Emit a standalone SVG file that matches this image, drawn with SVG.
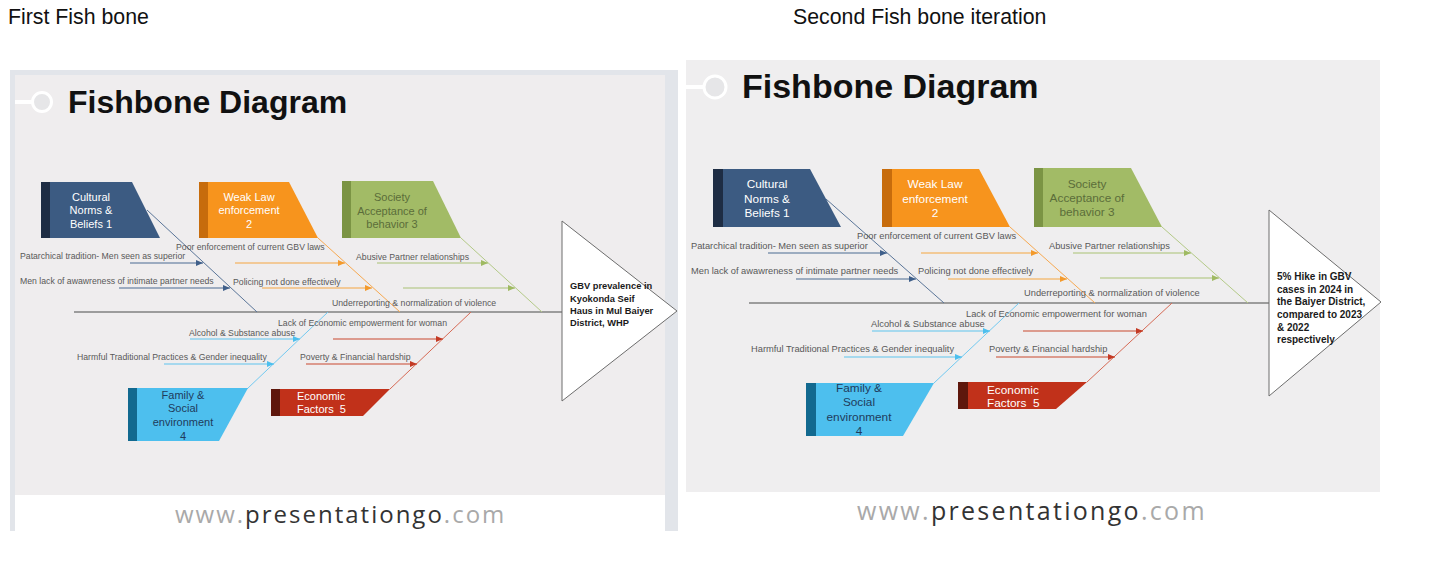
<svg xmlns="http://www.w3.org/2000/svg" width="1440" height="570" viewBox="0 0 1440 570">
<defs>
<style>
.cap{font-family:"Liberation Sans",Arial,sans-serif;font-size:21.3px;fill:#111}
.title{font-family:"Liberation Sans",Arial,sans-serif;font-weight:bold;fill:#111}
.lbl{font-family:"Liberation Sans",Arial,sans-serif;fill:#595959}
.l1{font-size:8.7px}
.l2{font-size:9.3px}
.bx{font-family:"Liberation Sans",Arial,sans-serif;text-anchor:middle}
.b1{font-size:11px}
.b2{font-size:11.8px}
.head{font-family:"Liberation Sans",Arial,sans-serif;font-weight:bold;fill:#1a1a1a}
.foot{font-family:"Open Sans","Liberation Sans",sans-serif;letter-spacing:2px}
.g{fill:#a9a9a9}.d{fill:#333}
.spine{stroke:#808080;stroke-width:1.3;fill:none}
.bone{stroke-width:1;fill:none}
.arr{stroke-width:1.1;fill:none}
.tri{fill:#fff;stroke:#6d6d6d;stroke-width:1}
.pin{fill:#e6e6e8;stroke:#fff;stroke-width:3}
</style>
<marker id="mBlue" viewBox="0 0 7 6" markerWidth="7" markerHeight="6" refX="7" refY="3" orient="auto" markerUnits="userSpaceOnUse"><path d="M0,0L7,3L0,6z" fill="#3f5f8a"/></marker>
<marker id="mOrange" viewBox="0 0 7 6" markerWidth="7" markerHeight="6" refX="7" refY="3" orient="auto" markerUnits="userSpaceOnUse"><path d="M0,0L7,3L0,6z" fill="#f39a2c"/></marker>
<marker id="mGreen" viewBox="0 0 7 6" markerWidth="7" markerHeight="6" refX="7" refY="3" orient="auto" markerUnits="userSpaceOnUse"><path d="M0,0L7,3L0,6z" fill="#9fba62"/></marker>
<marker id="mLblue" viewBox="0 0 7 6" markerWidth="7" markerHeight="6" refX="7" refY="3" orient="auto" markerUnits="userSpaceOnUse"><path d="M0,0L7,3L0,6z" fill="#4cbfee"/></marker>
<marker id="mRed" viewBox="0 0 7 6" markerWidth="7" markerHeight="6" refX="7" refY="3" orient="auto" markerUnits="userSpaceOnUse"><path d="M0,0L7,3L0,6z" fill="#c43a24"/></marker>
</defs>
<rect width="1440" height="570" fill="#fff"/>
<text class="cap" x="8" y="24">First Fish bone</text>
<text class="cap" x="793" y="24">Second Fish bone iteration</text>

<!-- LEFT PANEL -->
<g id="left-panel">
<rect x="10" y="70" width="668" height="461" fill="#e2e5ea"/>
<rect x="15" y="75" width="650" height="420" fill="#efedee"/>
<rect x="15" y="495" width="650" height="36" fill="#fff"/>
<line x1="15" y1="102" x2="33" y2="102" stroke="#fff" stroke-width="4"/>
<circle class="pin" cx="42" cy="102" r="9.5"/>
<text class="title" x="68" y="113" font-size="32">Fishbone Diagram</text>
<text class="foot" x="175" y="523" font-size="24"><tspan class="g">www.</tspan><tspan class="d">presentationgo</tspan><tspan class="g">.com</tspan></text>
</g>

<g id="left-connectors">
<line class="spine" x1="74" y1="312" x2="562" y2="312"/>
<line class="bone" stroke="#5a7598" x1="147" y1="210" x2="257" y2="312"/>
<line class="bone" stroke="#f6a850" x1="318" y1="238" x2="400" y2="312"/>
<line class="bone" stroke="#b3c987" x1="461" y1="238" x2="542" y2="312"/>
<line class="bone" stroke="#72c9f0" x1="247" y1="389" x2="328" y2="312"/>
<line class="bone" stroke="#d66a55" x1="390" y1="389" x2="471" y2="312"/>
<line class="arr" stroke="#4a6a92" x1="130" y1="263" x2="203" y2="263" marker-end="url(#mBlue)"/>
<line class="arr" stroke="#4a6a92" x1="119" y1="288" x2="230" y2="288" marker-end="url(#mBlue)"/>
<line class="arr" stroke="#f5a540" x1="235" y1="263" x2="345" y2="263" marker-end="url(#mOrange)"/>
<line class="arr" stroke="#f5a540" x1="262" y1="288" x2="372" y2="288" marker-end="url(#mOrange)"/>
<line class="arr" stroke="#a9c174" x1="377" y1="263" x2="488" y2="263" marker-end="url(#mGreen)"/>
<line class="arr" stroke="#a9c174" x1="403" y1="288" x2="515" y2="288" marker-end="url(#mGreen)"/>
<line class="arr" stroke="#5ec4ee" x1="190" y1="339" x2="300" y2="339" marker-end="url(#mLblue)"/>
<line class="arr" stroke="#5ec4ee" x1="164" y1="364" x2="274" y2="364" marker-end="url(#mLblue)"/>
<line class="arr" stroke="#c9492f" x1="333" y1="339" x2="443" y2="339" marker-end="url(#mRed)"/>
<line class="arr" stroke="#c9492f" x1="306" y1="364" x2="417" y2="364" marker-end="url(#mRed)"/>
</g>

<g id="left-labels">
<text class="lbl l1" x="176" y="250">Poor enforcement of current GBV laws</text>
<text class="lbl l1" x="20" y="259">Patarchical tradition- Men seen as superior</text>
<text class="lbl l1" x="20" y="284">Men lack of awawreness of intimate partner needs</text>
<text class="lbl l1" x="233" y="285">Policing not done effectively</text>
<text class="lbl l1" x="356" y="260">Abusive Partner relationships</text>
<text class="lbl l1" x="332" y="306">Underreporting &amp; normalization of violence</text>
<text class="lbl l1" x="278" y="326">Lack of Economic empowerment for woman</text>
<text class="lbl l1" x="189" y="336">Alcohol &amp; Substance abuse</text>
<text class="lbl l1" x="77" y="360">Harmful Traditional Practices &amp; Gender inequality</text>
<text class="lbl l1" x="300" y="360">Poverty &amp; Financial hardship</text>
</g>

<g id="left-cultural">
<polygon points="41,182 132,182 160,238 41,238" fill="#3c5b82"/>
<rect x="41" y="182" width="9" height="56" fill="#1e2d44"/>
<text class="bx b1" fill="#fff"><tspan x="91" y="201">Cultural</tspan><tspan x="91" y="214">Norms &amp;</tspan><tspan x="91" y="228">Beliefs 1</tspan></text>
</g>
<g id="left-weaklaw">
<polygon points="199,182 289,182 318,238 199,238" fill="#f7941d"/>
<rect x="199" y="182" width="9" height="56" fill="#c76c0c"/>
<text class="bx b1" fill="#fff"><tspan x="249" y="201">Weak Law</tspan><tspan x="249" y="214">enforcement</tspan><tspan x="249" y="228">2</tspan></text>
</g>
<g id="left-society">
<polygon points="342,181 433,181 461,238 342,238" fill="#a2bb66"/>
<rect x="342" y="181" width="9" height="57" fill="#7b9444"/>
<text class="bx b1" fill="#5b6d3a"><tspan x="392" y="201">Society</tspan><tspan x="392" y="215">Acceptance of</tspan><tspan x="392" y="228">behavior 3</tspan></text>
</g>
<g id="left-family">
<polygon points="128,388 248,388 219,441 128,441" fill="#4dbfee"/>
<rect x="128" y="388" width="9" height="53" fill="#12698f"/>
<text class="bx b1" fill="#1f3b5c"><tspan x="183" y="399">Family &amp;</tspan><tspan x="183" y="412">Social</tspan><tspan x="183" y="426">environment</tspan><tspan x="183" y="440">4</tspan></text>
</g>
<g id="left-economic">
<polygon points="271,389 390,389 363,416 271,416" fill="#c1311a"/>
<rect x="271" y="389" width="9" height="27" fill="#5e170c"/>
<text class="b1" font-family="Liberation Sans, Arial, sans-serif" fill="#fff" xml:space="preserve"><tspan x="297" y="400">Economic</tspan><tspan x="297" y="413">Factors  5</tspan></text>
</g>
<g id="left-head">
<polygon class="tri" points="562,221 677,311 562,401"/>
<text class="head" font-size="9.3"><tspan x="570" y="289">GBV prevalence in</tspan><tspan x="570" y="301.5">Kyokonda Seif</tspan><tspan x="570" y="313.5">Haus in Mul Baiyer</tspan><tspan x="570" y="325.5">District, WHP</tspan></text>
</g>

<!-- RIGHT PANEL -->
<g id="right-panel">
<rect x="686" y="60" width="694" height="432" fill="#efeeef"/>
<line x1="686" y1="87" x2="703" y2="87" stroke="#fff" stroke-width="4"/>
<circle class="pin" cx="715" cy="87" r="11"/>
<text class="title" x="742" y="98" font-size="34">Fishbone Diagram</text>
<text class="foot" x="857" y="520" font-size="25" style="letter-spacing:2.3px"><tspan class="g">www.</tspan><tspan class="d">presentationgo</tspan><tspan class="g">.com</tspan></text>
</g>

<g id="right-connectors">
<line class="spine" x1="749" y1="303" x2="1269" y2="303"/>
<line class="bone" stroke="#5a7598" x1="826" y1="199" x2="944" y2="303"/>
<line class="bone" stroke="#f6a850" x1="1010" y1="227" x2="1095" y2="303"/>
<line class="bone" stroke="#b3c987" x1="1162" y1="227" x2="1248" y2="303"/>
<line class="bone" stroke="#72c9f0" x1="934" y1="383" x2="1019" y2="303"/>
<line class="bone" stroke="#d66a55" x1="1087" y1="382" x2="1172" y2="303"/>
<line class="arr" stroke="#4a6a92" x1="768" y1="253" x2="887" y2="253" marker-end="url(#mBlue)"/>
<line class="arr" stroke="#4a6a92" x1="796" y1="279" x2="916" y2="279" marker-end="url(#mBlue)"/>
<line class="arr" stroke="#f5a540" x1="921" y1="253" x2="1038" y2="253" marker-end="url(#mOrange)"/>
<line class="arr" stroke="#f5a540" x1="948" y1="279" x2="1067" y2="279" marker-end="url(#mOrange)"/>
<line class="arr" stroke="#a9c174" x1="1073" y1="253" x2="1191" y2="253" marker-end="url(#mGreen)"/>
<line class="arr" stroke="#a9c174" x1="1100" y1="278" x2="1219" y2="278" marker-end="url(#mGreen)"/>
<line class="arr" stroke="#5ec4ee" x1="872" y1="331" x2="990" y2="331" marker-end="url(#mLblue)"/>
<line class="arr" stroke="#5ec4ee" x1="844" y1="357" x2="962" y2="357" marker-end="url(#mLblue)"/>
<line class="arr" stroke="#c9492f" x1="1023" y1="331" x2="1143" y2="331" marker-end="url(#mRed)"/>
<line class="arr" stroke="#c9492f" x1="996" y1="357" x2="1115" y2="357" marker-end="url(#mRed)"/>
</g>

<g id="right-labels">
<text class="lbl l2" x="857" y="239">Poor enforcement of current GBV laws</text>
<text class="lbl l2" x="691" y="249">Patarchical tradition- Men seen as superior</text>
<text class="lbl l2" x="691" y="274">Men lack of awawreness of intimate partner needs</text>
<text class="lbl l2" x="918" y="274">Policing not done effectively</text>
<text class="lbl l2" x="1049" y="249">Abusive Partner relationships</text>
<text class="lbl l2" x="1024" y="296">Underreporting &amp; normalization of violence</text>
<text class="lbl l2" x="966" y="317">Lack of Economic empowerment for woman</text>
<text class="lbl l2" x="871" y="327">Alcohol &amp; Substance abuse</text>
<text class="lbl l2" x="751" y="352">Harmful Traditional Practices &amp; Gender inequality</text>
<text class="lbl l2" x="989" y="352">Poverty &amp; Financial hardship</text>
</g>

<g id="right-cultural">
<polygon points="713,169 810,169 841,227 713,227" fill="#3c5b82"/>
<rect x="713" y="169" width="10" height="58" fill="#1e2d44"/>
<text class="bx b2" fill="#fff"><tspan x="767" y="188">Cultural</tspan><tspan x="767" y="203">Norms &amp;</tspan><tspan x="767" y="217">Beliefs 1</tspan></text>
</g>
<g id="right-weaklaw">
<polygon points="882,169 979,169 1010,227 882,227" fill="#f7941d"/>
<rect x="882" y="169" width="10" height="58" fill="#c76c0c"/>
<text class="bx b2" fill="#fff"><tspan x="935" y="188">Weak Law</tspan><tspan x="935" y="203">enforcement</tspan><tspan x="935" y="217">2</tspan></text>
</g>
<g id="right-society">
<polygon points="1034,168 1131,168 1162,227 1034,227" fill="#a2bb66"/>
<rect x="1034" y="168" width="9" height="59" fill="#7b9444"/>
<text class="bx b2" fill="#5b6d3a"><tspan x="1087" y="188">Society</tspan><tspan x="1087" y="202">Acceptance of</tspan><tspan x="1087" y="216">behavior 3</tspan></text>
</g>
<g id="right-family">
<polygon points="806,383 934,383 903,436 806,436" fill="#4dbfee"/>
<rect x="806" y="383" width="10" height="53" fill="#12698f"/>
<text class="bx b2" fill="#1f3b5c"><tspan x="859" y="392">Family &amp;</tspan><tspan x="859" y="406">Social</tspan><tspan x="859" y="421">environment</tspan><tspan x="859" y="435">4</tspan></text>
</g>
<g id="right-economic">
<polygon points="958,382 1087,382 1056,409 958,409" fill="#c1311a"/>
<rect x="958" y="382" width="10" height="27" fill="#5e170c"/>
<text class="b2" font-family="Liberation Sans, Arial, sans-serif" fill="#fff" xml:space="preserve"><tspan x="987" y="394">Economic</tspan><tspan x="987" y="407">Factors  5</tspan></text>
</g>
<g id="right-head">
<polygon class="tri" points="1269,210 1381,302 1269,396"/>
<text class="head" font-size="10"><tspan x="1277" y="280">5% Hike in GBV</tspan><tspan x="1277" y="292.5">cases in 2024 in</tspan><tspan x="1277" y="305">the Baiyer District,</tspan><tspan x="1277" y="318">compared to 2023</tspan><tspan x="1277" y="330.5">&amp; 2022</tspan><tspan x="1277" y="343">respectively</tspan></text>
</g>
</svg>
